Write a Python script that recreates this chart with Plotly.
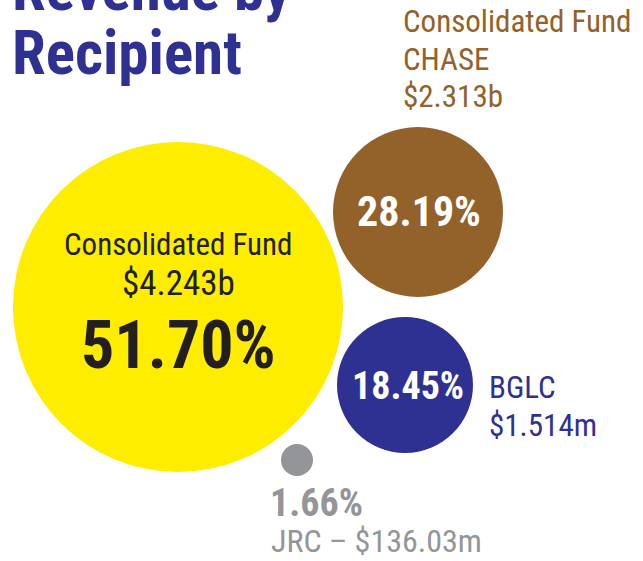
import plotly.graph_objects as go

# ---- data ----
recipients = ["Consolidated Fund", "Consolidated Fund CHASE", "BGLC", "JRC"]
amounts = ["$4.243b", "$2.313b", "$1.514m", "$136.03m"]
shares = [51.70, 28.19, 18.45, 1.66]
colors = ["#FFED00", "#93612A", "#2E3192", "#939598"]
title_lines = ["Revenue by", "Recipient"]

# ---- layout constants (pixel geometry of the bubbles) ----
W, H = 643, 561
centers = [(178, 307), (418, 212), (405, 385), (297, 460)]
radii = [165, 85, 68, 16]

FONT = "Roboto Condensed, Roboto, DejaVu Sans Condensed, sans-serif"
DARK = "#231F20"

fig = go.Figure()
shapes = []
for (cx, cy), r, c in zip(centers, radii, colors):
    shapes.append(dict(type="circle", xref="x", yref="y",
                       x0=cx - r, x1=cx + r, y0=cy - r, y1=cy + r,
                       fillcolor=c, line=dict(width=0), layer="below"))

ann = []
def add(text, x, y, size, color, bold=False, xanchor="center"):
    t = f"<b>{text}</b>" if bold else text
    # paper coordinates so that text partly outside the page is still drawn
    ann.append(dict(text=t, x=x / W, y=1 - y / H, xref="paper", yref="paper",
                    showarrow=False, xanchor=xanchor, yanchor="middle",
                    font=dict(family=FONT, size=size, color=color)))

# title
add(title_lines[0], 10, -11, 61, "#2E3192", bold=True, xanchor="left")
add(title_lines[1], 10, 53, 61, "#2E3192", bold=True, xanchor="left")

# Consolidated Fund (yellow)
add(recipients[0], 178, 244, 31, DARK)
add(amounts[0], 178, 283, 35, DARK)
add(f"{shares[0]:.2f}%", 178, 346, 66, DARK, bold=True)

# CHASE (brown)
add(f"{shares[1]:.2f}%", 419, 211, 42, "white", bold=True)
add("Consolidated Fund", 401, 21, 31, colors[1], xanchor="left")
add("CHASE", 401, 60, 31, colors[1], xanchor="left")
add(amounts[1], 401, 97, 31, colors[1], xanchor="left")

# BGLC (navy)
add(f"{shares[2]:.2f}%", 408, 386, 38, "white", bold=True)
add(recipients[2], 487, 387, 31, colors[2], xanchor="left")
add(amounts[2], 487, 425, 31, colors[2], xanchor="left")

# JRC (grey)
add(f"{shares[3]:.2f}%", 268, 503, 38, colors[3], bold=True, xanchor="left")
add(f"{recipients[3]} – {amounts[3]}", 269, 541, 32, colors[3], xanchor="left")

fig.update_layout(
    width=W, height=H, margin=dict(l=0, r=0, t=0, b=0),
    paper_bgcolor="white", plot_bgcolor="white",
    xaxis=dict(range=[0, W], visible=False, fixedrange=True),
    yaxis=dict(range=[H, 0], visible=False, fixedrange=True),
    shapes=shapes, annotations=ann, showlegend=False,
)
fig.write_html("out.html", config={"displayModeBar": False},
               post_script="document.body.style.margin='0';document.body.style.overflow='hidden';")
